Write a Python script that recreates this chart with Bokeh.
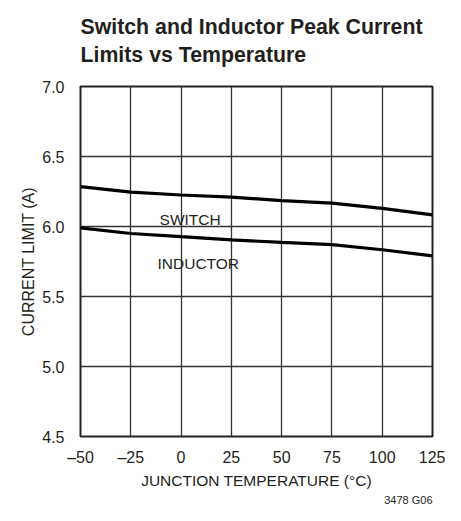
from bokeh.plotting import figure
from bokeh.models import FixedTicker, Range1d, Label, Title
from bokeh.embed import file_html
from bokeh.resources import INLINE

# data
temperature = [-50, -25, 0, 25, 50, 75, 100, 125]
switch_limit = [6.285, 6.245, 6.225, 6.21, 6.185, 6.167, 6.13, 6.083]
inductor_limit = [5.99, 5.95, 5.927, 5.905, 5.886, 5.87, 5.834, 5.79]
x_ticks = [-50, -25, 0, 25, 50, 75, 100, 125]
x_tick_labels = ["–50", "–25", "0", "25", "50", "75", "100", "125"]
y_ticks = [4.5, 5.0, 5.5, 6.0, 6.5, 7.0]
y_tick_labels = ["4.5", "5.0", "5.5", "6.0", "6.5", "7.0"]
title_lines = ["Switch and Inductor Peak Current", "Limits vs Temperature"]

FONT = "'Liberation Sans', Arial, sans-serif"
INK = "#231f20"

p = figure(width=445, height=505, output_backend="svg", toolbar_location=None, title=None,
           x_range=Range1d(-50, 125), y_range=Range1d(4.5, 7.0),
           min_border_left=80, min_border_right=13, min_border_top=86, min_border_bottom=68)

# items added first sit nearest the plot frame: a small spacer, then the two title lines
p.add_layout(Title(text=" ", text_font=FONT, text_font_size="1px", standoff=15), "above")
p.add_layout(Title(text=title_lines[1], text_font=FONT, text_font_size="21.3px",
                   text_font_style="bold", text_color=INK, align="left", offset=0,
                   standoff=4), "above")
p.add_layout(Title(text=title_lines[0], text_font=FONT, text_font_size="21.3px",
                   text_font_style="bold", text_color=INK, align="left", offset=0,
                   standoff=0), "above")

p.line(temperature, switch_limit, line_width=3.2, line_color="black")
p.line(temperature, inductor_limit, line_width=3.2, line_color="black")

p.add_layout(Label(x=-10.7, y=6.048, text="SWITCH", text_font=FONT,
                   text_font_size="15.5px", text_color=INK, text_baseline="alphabetic"))
p.add_layout(Label(x=-11.7, y=5.734, text="INDUCTOR", text_font=FONT,
                   text_font_size="15.5px", text_color=INK, text_baseline="alphabetic"))

p.xaxis.ticker = FixedTicker(ticks=x_ticks)
p.xaxis.major_label_overrides = dict(zip(x_ticks, x_tick_labels))
p.yaxis.ticker = FixedTicker(ticks=y_ticks)
p.yaxis.major_label_overrides = dict(zip(y_ticks, y_tick_labels))

for ax in (p.xaxis[0], p.yaxis[0]):
    ax.axis_line_color = None
    ax.major_tick_line_color = None
    ax.minor_tick_line_color = None
    ax.major_label_text_font = FONT
    ax.major_label_text_font_size = "16px"
    ax.major_label_text_color = INK
    ax.axis_label_text_font = FONT
    ax.axis_label_text_font_style = "normal"
    ax.axis_label_text_color = INK

p.xaxis.axis_label = "JUNCTION TEMPERATURE (°C)"
p.yaxis.axis_label = "CURRENT LIMIT (A)"
p.xaxis.axis_label_text_font_size = "15.5px"
p.yaxis.axis_label_text_font_size = "16px"
p.xaxis.major_label_standoff = 6
p.xaxis.axis_label_standoff = 3
p.yaxis.major_label_standoff = 10
p.yaxis.axis_label_standoff = 2

p.xgrid.ticker = FixedTicker(ticks=x_ticks)
p.ygrid.ticker = FixedTicker(ticks=y_ticks)
p.grid.grid_line_color = "#333333"
p.grid.grid_line_width = 1.3
p.grid.grid_line_alpha = 1.0

p.outline_line_color = "#222222"
p.outline_line_width = 2
p.background_fill_color = "white"
p.border_fill_color = "white"

# footnote below the x axis, right aligned
p.add_layout(Title(text="3478 G06", text_font=FONT, text_font_size="11px",
                   text_font_style="normal", text_color=INK, align="right",
                   offset=0, standoff=0), "below")

open("out.html", "w").write(file_html(p, INLINE))
